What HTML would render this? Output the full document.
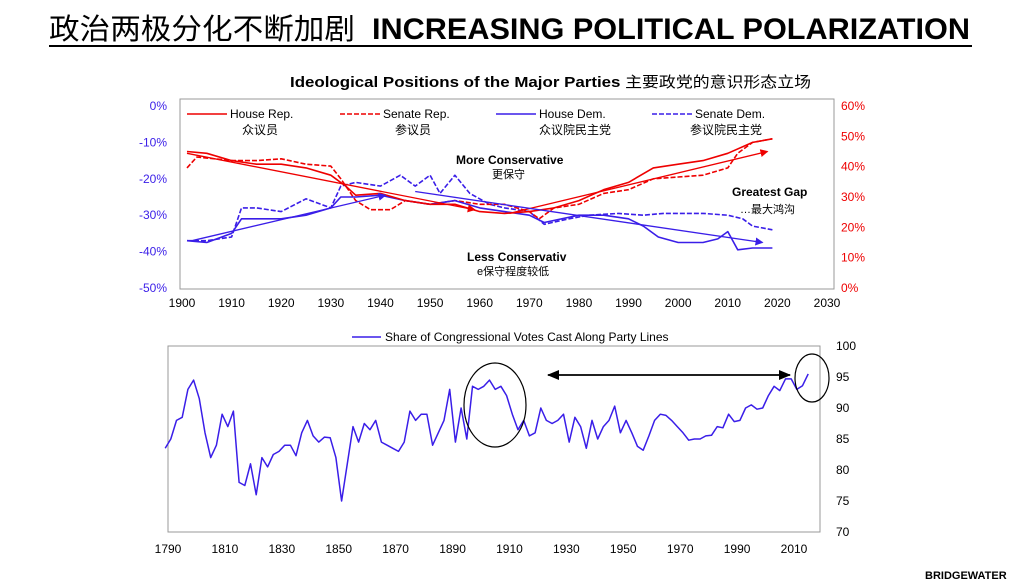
<!DOCTYPE html>
<html><head><meta charset="utf-8"><style>
html,body{margin:0;padding:0;background:#fff;}
svg{display:block;font-family:"Liberation Sans","Noto Sans CJK SC",sans-serif;}
</style></head><body>
<svg id="svg" width="1026" height="585" viewBox="0 0 1026 585" xmlns="http://www.w3.org/2000/svg">
<defs>
<marker id="ar" markerWidth="8" markerHeight="8" refX="7" refY="4" orient="auto" markerUnits="userSpaceOnUse"><path d="M0,0 L8,4 L0,8 Z" fill="#e00"/></marker>
<marker id="ab" markerWidth="8" markerHeight="8" refX="7" refY="4" orient="auto" markerUnits="userSpaceOnUse"><path d="M0,0 L8,4 L0,8 Z" fill="#3a1ee8"/></marker>
<marker id="ak" markerWidth="12" markerHeight="10" refX="11" refY="5" orient="auto" markerUnits="userSpaceOnUse"><path d="M0,0 L12,5 L0,10 Z" fill="#000"/></marker>
<marker id="aks" markerWidth="12" markerHeight="10" refX="1" refY="5" orient="auto" markerUnits="userSpaceOnUse"><path d="M12,0 L0,5 L12,10 Z" fill="#000"/></marker>
</defs>
<g>
<text x="49" y="39" font-size="29" fill="#000" textLength="306" lengthAdjust="spacingAndGlyphs">政治两极分化不断加剧</text>
<text x="372" y="39" font-size="30" font-weight="bold" fill="#000" textLength="598" lengthAdjust="spacingAndGlyphs">INCREASING POLITICAL POLARIZATION</text>
<line x1="49" y1="46" x2="972" y2="46" stroke="#000" stroke-width="2"/>
</g>
<text x="290" y="87" font-size="15" font-weight="bold" textLength="521" lengthAdjust="spacingAndGlyphs">Ideological Positions of the Major Parties <tspan font-weight="normal">主要政党的意识形态立场</tspan></text>
<g id="topchart"></g>
<g id="botchart"></g>
<text x="925" y="579" font-size="11" font-weight="bold">BRIDGEWATER</text>
</svg>
<script>
const NS="http://www.w3.org/2000/svg";
// ---- top chart data ----
const hrYears=[1901,1905,1910,1915,1920,1925,1930,1933,1935,1940,1945,1950,1955,1960,1965,1970,1975,1980,1985,1990,1995,2000,2005,2010,2015,2019];
const hrVals=[-12.5,-13,-15,-16,-16,-17,-19,-22,-24.5,-24,-26,-27,-27,-29,-29.5,-29,-28,-26,-23,-21,-17,-16,-15,-13,-10,-9];
const srYears=[1901,1903,1910,1915,1920,1925,1930,1932,1935,1938,1942,1945,1950,1955,1960,1965,1970,1972,1975,1980,1985,1990,1995,2000,2005,2010,2012,2015,2019];
const srVals=[-17,-14,-15,-15,-14.5,-16,-16.5,-20,-26,-28.5,-28.5,-26,-27,-26,-27,-27,-29,-31,-28,-27,-24,-23,-20,-19.5,-19,-17,-13,-10,-9];
const hdYears=[1901,1905,1910,1912,1915,1920,1925,1930,1932,1935,1940,1945,1950,1955,1960,1965,1970,1973,1980,1985,1990,1993,1996,2000,2005,2008,2010,2012,2015,2019];
const hdVals=[-37,-37.5,-35,-31,-31,-31,-30,-28,-25,-25,-24.5,-26,-27,-26,-28,-29,-30,-32,-30,-30,-31,-33,-36,-37.5,-37.5,-36.5,-34.5,-39.5,-39,-39];
const sdYears=[1901,1905,1910,1912,1915,1920,1925,1930,1932,1935,1940,1944,1947,1950,1952,1955,1958,1962,1965,1970,1973,1978,1982,1988,1993,1997,2005,2010,2013,2015,2019];
const sdVals=[-37,-37,-36,-28,-28,-29,-25.5,-28,-22,-21,-22,-19,-22,-19,-24,-19,-24,-27,-28,-29,-32.5,-31,-30,-29.5,-30,-29.5,-29.5,-30,-31,-33,-34];
const trendRed=[[1901,-13,1959,-28.5],[1966,-29.5,2018,-12.5]];
const trendBlue=[[1902,-37,1941,-24.5],[1947,-23.5,2017,-37.5]];
const xTicksTop=[1900,1910,1920,1930,1940,1950,1960,1970,1980,1990,2000,2010,2020,2030];
const leftTicks=[0,-10,-20,-30,-40,-50];
const rightTicks=[60,50,40,30,20,10,0];
// ---- bottom chart data ----
const votesYears=[1789,1791,1793,1795,1797,1799,1801,1803,1805,1807,1809,1811,1813,1815,1817,1819,1821,1823,1825,1827,1829,1831,1833,1835,1837,1839,1841,1843,1845,1847,1849,1851,1853,1855,1857,1859,1861,1863,1865,1867,1869,1871,1873,1875,1877,1879,1881,1883,1885,1887,1889,1891,1893,1895,1897,1899,1901,1903,1905,1907,1909,1911,1913,1915,1917,1919,1921,1923,1925,1927,1929,1931,1933,1935,1937,1939,1941,1943,1945,1947,1949,1951,1953,1955,1957,1959,1961,1963,1965,1967,1969,1971,1973,1975,1977,1979,1981,1983,1985,1987,1989,1991,1993,1995,1997,1999,2001,2003,2005,2007,2009,2011,2013,2015];
const votesVals=[83.5,85,88,88.5,93,94.5,91.5,86,82,84,89,87,89.5,78,77.5,81,76,82,80.5,82.5,83,84,84,82.3,86,88,85.5,84.5,85.3,85.2,82,75,81,87,84.5,87.5,86.5,88,84.5,84,83.5,83,84.5,89.5,88,89,89,84,86,88,93,84.5,90,85,93.5,93,93.5,94.5,93,93.5,92,89,86.5,88,85.5,86,90,88,87.5,88,89,84.5,88.5,87,83.5,88,85,87,88,90.3,86,88,86,83.8,83.2,85.5,88,89,88.8,88,87,86,84.8,85,85,85.5,85.6,87,86.8,89,87.8,88,90,90.5,89.8,90,92,93.5,92.8,94.7,94.7,93,93.6,95.5];
const xTicksBot=[1790,1810,1830,1850,1870,1890,1910,1930,1950,1970,1990,2010];
const yTicksBot=[100,95,90,85,80,75,70];

function el(tag,attrs,parent,txt){const e=document.createElementNS(NS,tag);for(const k in attrs)e.setAttribute(k,attrs[k]);if(txt!==undefined)e.textContent=txt;parent.appendChild(e);return e;}
const RED="#e00",BLUE="#3a1ee8";
const tx=y=>182+(y-1900)*(827-182)/130;
const ty=v=>106+(-v)*(288-106)/50;
const tyR=v=>288-v*(288-106)/60;
const topG=document.getElementById('topchart');
const r=el('rect',{x:180,y:99,width:654,height:190,fill:'none',stroke:'#999','stroke-width':1},topG);


xTicksTop.forEach(t=>{const e=el('text',{x:tx(t),y:307,'font-size':12,'text-anchor':'middle'},topG,String(t));

});
leftTicks.forEach(t=>{const e=el('text',{x:167,y:ty(t)+4,'font-size':12,'text-anchor':'end',fill:BLUE},topG,t+'%');

});
rightTicks.forEach(t=>{const e=el('text',{x:841,y:tyR(t)+4,'font-size':12,fill:RED},topG,t+'%');

});
function series(ys,vs,color,dash,name){const d=ys.map((y,i)=>(i?'L':'M')+tx(y).toFixed(1)+','+ty(vs[i]).toFixed(1)).join(' ');
const p=el('path',{d:d,fill:'none',stroke:color,'stroke-width':1.6,'stroke-dasharray':dash||'none','stroke-linejoin':'round'},topG);

}
series(sdYears,sdVals,BLUE,'5,2','senate-dem-line');
series(srYears,srVals,RED,'5,2','senate-rep-line');
series(hdYears,hdVals,BLUE,null,'house-dem-line');
series(hrYears,hrVals,RED,null,'house-rep-line');
trendRed.forEach(t=>{const l=el('line',{x1:tx(t[0]),y1:ty(t[1]),x2:tx(t[2]),y2:ty(t[3]),stroke:RED,'stroke-width':1.3,'marker-end':'url(#ar)'},topG);

});
trendBlue.forEach(t=>{const l=el('line',{x1:tx(t[0]),y1:ty(t[1]),x2:tx(t[2]),y2:ty(t[3]),stroke:BLUE,'stroke-width':1.3,'marker-end':'url(#ab)'},topG);

});
const leg=[[187,RED,null,'House Rep.','众议员',230,242],[340,RED,'5,2','Senate Rep.','参议员',383,395],[496,BLUE,null,'House Dem.','众议院民主党',539,539],[652,BLUE,'5,2','Senate Dem.','参议院民主党',695,690]];
leg.forEach(l=>{const g=el('g',{},topG);


el('line',{x1:l[0],y1:114,x2:l[0]+40,y2:114,stroke:l[1],'stroke-width':1.6,'stroke-dasharray':l[2]||'none'},g);
el('text',{x:l[5],y:118,'font-size':12},g,l[3]);el('text',{x:l[6],y:134,'font-size':12},g,l[4]);});
[[456,164,'More Conservative',true],[492,178,'更保守',false],[467,261,'Less Conservativ',true],[477,275,'e保守程度较低',false],[732,196,'Greatest Gap',true],[740,213,'…最大鸿沟',false]].forEach(a=>{
const e=el('text',{x:a[0],y:a[1],'font-size':a[3]?12:11,'font-weight':a[3]?'bold':'normal'},topG,a[2]);

});
const bx=y=>168+(y-1790)*(794-168)/220;
const by=v=>346+(100-v)*(532-346)/30;
const botG=document.getElementById('botchart');
const b=el('rect',{x:168,y:346,width:652,height:186,fill:'none',stroke:'#999','stroke-width':1},botG);


xTicksBot.forEach(t=>{const e=el('text',{x:bx(t),y:553,'font-size':12,'text-anchor':'middle'},botG,String(t));

});
yTicksBot.forEach(t=>{const e=el('text',{x:836,y:by(t)+4,'font-size':12},botG,String(t));

});
const vd=votesYears.map((y,i)=>(i?'L':'M')+bx(y).toFixed(1)+','+by(votesVals[i]).toFixed(1)).join(' ');
const vp=el('path',{d:vd,fill:'none',stroke:BLUE,'stroke-width':1.5,'stroke-linejoin':'round'},botG);


const lg=el('g',{},botG);


el('line',{x1:352,y1:337,x2:381,y2:337,stroke:BLUE,'stroke-width':1.6},lg);
el('text',{x:385,y:341,'font-size':12},lg,'Share of Congressional Votes Cast Along Party Lines');
const c1=el('ellipse',{cx:495,cy:405,rx:31,ry:42,fill:'none',stroke:'#000','stroke-width':1.2},botG);


const c2=el('ellipse',{cx:812,cy:378,rx:17,ry:24,fill:'none',stroke:'#000','stroke-width':1.2},botG);


const da=el('line',{x1:548,y1:375,x2:790,y2:375,stroke:'#000','stroke-width':1.8,'marker-end':'url(#ak)','marker-start':'url(#aks)'},botG);


</script>
</body></html>
